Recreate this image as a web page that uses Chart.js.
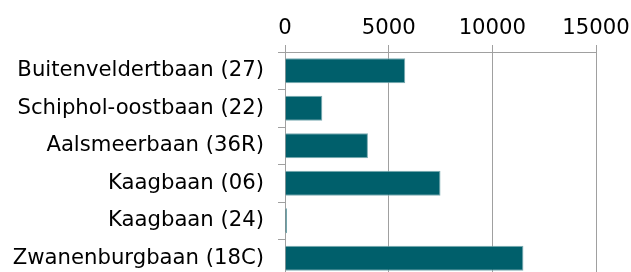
<!DOCTYPE html>
<html>
<head>
<meta charset="utf-8">
<script src="https://cdn.jsdelivr.net/npm/chart.js@4"></script>
<style>
  html, body { margin: 0; padding: 0; background: #fff; overflow: hidden; }
  #wrap { width: 631px; height: 280px; }
</style>
</head>
<body>
<div id="wrap"><canvas id="banen"></canvas></div>
<script>
const banen = ["Buitenveldertbaan (27)", "Schiphol-oostbaan (22)", "Aalsmeerbaan (36R)", "Kaagbaan (06)", "Kaagbaan (24)", "Zwanenburgbaan (18C)"];
const aantallen = [5800, 1800, 4000, 7500, 100, 11500];
const xTicks = [0, 5000, 10000, 15000];

const ctx = document.getElementById('banen').getContext('2d');
const grafiek = new Chart(ctx, {
    type: 'bar',
    data: {
        labels: banen,
        datasets: [{
            data: aantallen,
            backgroundColor: '#005F6B',
            borderColor: '#7aaab1',
            borderWidth: 1,
            borderSkipped: 'start',
            barPercentage: 0.667,
            categoryPercentage: 1
        }]
    },
    options: {
        indexAxis: 'y',
        responsive: true,
        maintainAspectRatio: false,
        animation: false,
        layout: { padding: { top: 0, right: 35, bottom: 3, left: 0 } },
        plugins: {
            legend: { display: false },
            tooltip: { enabled: false }
        },
        scales: {
            x: {
                position: 'top',
                min: 0,
                max: 15000,
                afterBuildTicks: (scale) => { scale.ticks = xTicks.map(v => ({ value: v })); },
                afterFit: (scale) => {
                    scale.height = 52;
                    scale.paddingLeft = 0;
                    scale.paddingRight = 0;
                },
                ticks: {
                    color: '#000',
                    font: { family: 'DejaVu Sans', size: 21.2 },
                    padding: 4,
                    maxRotation: 0,
                    callback: (v) => String(v)
                },
                grid: { color: '#a0a0a0', lineWidth: 1, tickLength: 7 },
                border: { color: '#a0a0a0', width: 1 }
            },
            y: {
                afterFit: (scale) => {
                    scale.width = 285;
                    scale.paddingTop = 0;
                    scale.paddingBottom = 0;
                },
                ticks: {
                    color: '#000',
                    font: { family: 'DejaVu Sans', size: 21.2 },
                    padding: 14
                },
                grid: { drawOnChartArea: false, color: '#a0a0a0', tickLength: 7, offset: true },
                border: { color: '#a0a0a0', width: 1 }
            }
        }
    }
});
</script>
</body>
</html>
